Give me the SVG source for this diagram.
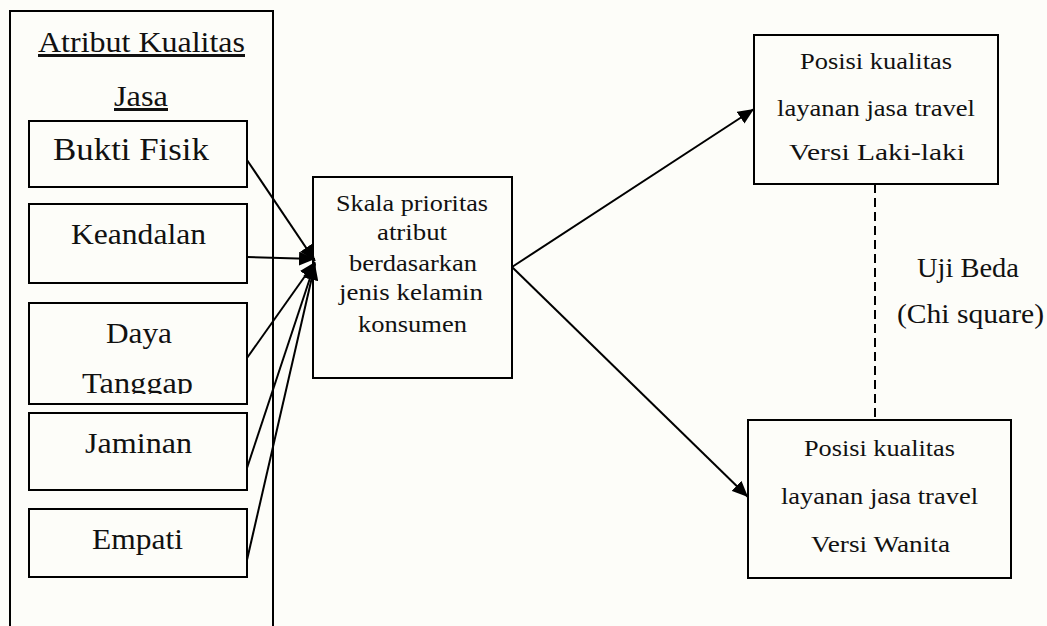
<svg xmlns="http://www.w3.org/2000/svg" width="1047" height="626" viewBox="0 0 1047 626">
<style>
.box{fill:none;stroke:#000;stroke-width:2}
.t{font-family:'Liberation Serif','Times New Roman','DejaVu Serif',serif;fill:#111;text-anchor:middle}
.c{stroke:#000;stroke-width:2;fill:none}
</style>
<defs>
<marker id="ah" markerUnits="userSpaceOnUse" markerWidth="18" markerHeight="14" refX="16" refY="7" orient="auto">
<path d="M0,0 L16,7 L0,14 Z" fill="#000"/>
</marker>
<clipPath id="dayaClip"><rect x="29" y="303" width="218" height="91"/></clipPath>
</defs>
<rect width="1047" height="626" fill="#fdfdf9"/>
<g id="atribut-group">
<path class="box" d="M10,630 L10,11 L273,11 L273,630"/>
<text class="t" x="141.5" y="52" font-size="30" text-decoration="underline" textLength="207" lengthAdjust="spacingAndGlyphs">Atribut Kualitas</text>
<text class="t" x="141" y="106" font-size="30" text-decoration="underline" textLength="54" lengthAdjust="spacingAndGlyphs">Jasa</text>
</g>
<g id="bukti-fisik">
<rect class="box" x="29" y="121" width="218" height="66"/>
<text class="t" x="131" y="160" font-size="31" textLength="156" lengthAdjust="spacingAndGlyphs">Bukti Fisik</text>
</g>
<g id="keandalan">
<rect class="box" x="29" y="204" width="218" height="79"/>
<text class="t" x="138.5" y="244" font-size="29.5" textLength="135" lengthAdjust="spacingAndGlyphs">Keandalan</text>
</g>
<g id="daya-tanggap">
<rect class="box" x="29" y="303" width="218" height="101"/>
<text class="t" x="139" y="343" font-size="29.5" textLength="66" lengthAdjust="spacingAndGlyphs">Daya</text>
<text class="t" x="137.5" y="393" font-size="29.5" clip-path="url(#dayaClip)" textLength="111" lengthAdjust="spacingAndGlyphs">Tanggap</text>
</g>
<g id="jaminan">
<rect class="box" x="29" y="413" width="218" height="77"/>
<text class="t" x="138.5" y="453" font-size="29.5" textLength="107" lengthAdjust="spacingAndGlyphs">Jaminan</text>
</g>
<g id="empati">
<rect class="box" x="29" y="509" width="218" height="68"/>
<text class="t" x="137.5" y="549" font-size="29.5" textLength="91" lengthAdjust="spacingAndGlyphs">Empati</text>
</g>
<g id="skala">
<rect class="box" x="313" y="177" width="199" height="201"/>
<text class="t" x="412" y="211" font-size="24" textLength="152" lengthAdjust="spacingAndGlyphs">Skala prioritas</text>
<text class="t" x="412" y="240" font-size="24" textLength="70" lengthAdjust="spacingAndGlyphs">atribut</text>
<text class="t" x="413" y="271" font-size="24" textLength="128" lengthAdjust="spacingAndGlyphs">berdasarkan</text>
<text class="t" x="411" y="300" font-size="24" textLength="144" lengthAdjust="spacingAndGlyphs">jenis kelamin</text>
<text class="t" x="412.5" y="332" font-size="24" textLength="109" lengthAdjust="spacingAndGlyphs">konsumen</text>
</g>
<g id="versi-laki">
<rect class="box" x="754" y="35" width="244" height="149"/>
<text class="t" x="876" y="69" font-size="24" textLength="152" lengthAdjust="spacingAndGlyphs">Posisi kualitas</text>
<text class="t" x="876" y="116" font-size="24" textLength="198" lengthAdjust="spacingAndGlyphs">layanan jasa travel</text>
<text class="t" x="877" y="160" font-size="24" textLength="176" lengthAdjust="spacingAndGlyphs">Versi Laki-laki</text>
</g>
<g id="versi-wanita">
<rect class="box" x="748" y="420" width="263" height="158"/>
<text class="t" x="879.5" y="456" font-size="24" textLength="151" lengthAdjust="spacingAndGlyphs">Posisi kualitas</text>
<text class="t" x="879.5" y="504" font-size="24" textLength="197" lengthAdjust="spacingAndGlyphs">layanan jasa travel</text>
<text class="t" x="880.5" y="552" font-size="24" textLength="139" lengthAdjust="spacingAndGlyphs">Versi Wanita</text>
</g>
<g id="uji-beda-label">
<text class="t" x="968" y="277" font-size="27" textLength="102" lengthAdjust="spacingAndGlyphs">Uji Beda</text>
<text class="t" x="970.5" y="323" font-size="27" textLength="147" lengthAdjust="spacingAndGlyphs">(Chi square)</text>
</g>
<g id="connectors">
<line class="c" x1="247" y1="160" x2="315" y2="261" marker-end="url(#ah)"/>
<line class="c" x1="247" y1="257" x2="315" y2="259" marker-end="url(#ah)"/>
<line class="c" x1="247" y1="358" x2="315" y2="262" marker-end="url(#ah)"/>
<line class="c" x1="247" y1="468" x2="315" y2="263" marker-end="url(#ah)"/>
<line class="c" x1="247" y1="560" x2="315" y2="264" marker-end="url(#ah)"/>
<line class="c" x1="512" y1="267" x2="754" y2="109" marker-end="url(#ah)"/>
<line class="c" x1="512" y1="267" x2="748" y2="497" marker-end="url(#ah)"/>
<line class="c" x1="875" y1="184" x2="875" y2="420" stroke-dasharray="9,5"/>
</g>
</svg>
